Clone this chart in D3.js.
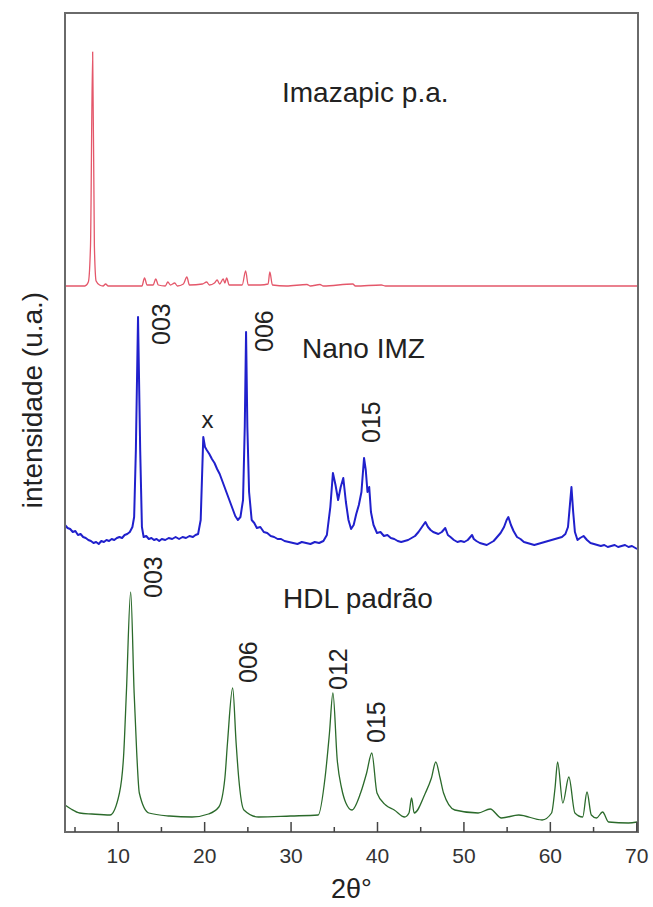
<!DOCTYPE html>
<html lang="pt">
<head>
<meta charset="utf-8">
<title>DRX</title>
<script src="https://cdn.jsdelivr.net/npm/d3@7"></script>
<style>
  body { margin: 0; background: #fff; }
  svg text { font-family: "Liberation Sans", Arial, sans-serif; fill: #222; }
</style>
</head>
<body>
<svg id="chart" width="653" height="907"></svg>
<script>
// 2theta / intensity pairs (arbitrary units)
var imazapic = [
  [3.9,0],[6.2,0],[6.6,4],[6.85,40],[7.1,234],[7.3,40],[7.5,5],[7.9,1],[8.3,0],[8.6,2],[8.9,0],
  [12.8,0],[13.1,8],[13.4,1],[14.1,1],[14.4,7],[14.7,1],[15.5,0],[15.8,4],[16.1,1],[16.6,3],[16.9,0],
  [17.6,2],[18.0,9],[18.3,1],[19.8,2],[20.3,4],[20.6,1],[21.2,3],[21.5,6],[21.8,2],[22.2,7],[22.4,3],
  [22.6,8],[22.9,1],[24.4,1],[24.8,15],[25.1,1],[26.5,1],[27.4,2],[27.6,14],[27.9,1],[29.5,0],
  [31.9,1.5],[32.3,0],[33.4,1.5],[33.8,0],[37.2,2],[37.5,0],[40.5,1],[41,0],[70.2,0]
];
var nanoImz = [
  [3.9,22],[4.2,19],[4.5,18],[4.8,15],[5.1,16],[5.4,12],[5.7,13],[6.0,10],[6.3,9],[6.6,7],[6.9,6],
  [7.2,4],[7.5,5],[7.8,3],[8.1,6],[8.4,5],[8.7,7],[9.0,6],[9.3,8],[9.6,7],[9.9,9],[10.2,10],[10.5,9],
  [10.8,12],[11.1,13],[11.4,15],[11.7,20],[11.9,30],[12.1,97],[12.35,230],[12.6,97],[12.8,20],[13.0,10],
  [13.3,11],[13.6,8],[13.9,9],[14.2,7],[14.5,8],[14.8,6],[15.1,8],[15.5,7],[15.9,9],[16.3,8],[16.7,10],
  [17.1,8],[17.5,10],[17.9,9],[18.3,11],[18.7,10],[19.0,12],[19.3,13],[19.6,27],[19.9,110],[20.1,100],
  [20.3,97],[20.6,93],[20.9,88],[21.2,84],[21.5,78],[21.8,73],[22.1,66],[22.4,59],[22.7,52],[23.0,45],
  [23.3,38],[23.6,31],[23.9,27],[24.2,30],[24.5,47],[24.7,120],[24.85,215],[25.0,120],[25.2,55],
  [25.5,27],[25.8,24],[26.1,19],[26.5,20],[26.9,15],[27.3,14],[27.7,11],[28.1,10],[28.5,8],[28.9,8],
  [29.3,6],[29.8,5],[30.3,4],[30.8,3],[31.3,5],[31.8,4],[32.3,3],[32.8,5],[33.3,4],[33.8,6],[34.2,12],
  [34.6,40],[34.9,74],[35.2,62],[35.5,47],[35.8,60],[36.1,69],[36.4,45],[36.7,27],[37.0,18],[37.3,22],
  [37.6,33],[37.9,42],[38.2,55],[38.5,89],[38.7,77],[38.9,55],[39.1,60],[39.3,35],[39.6,22],[40.0,14],
  [40.4,15],[40.8,11],[41.2,12],[41.6,9],[42.0,8],[42.4,6],[42.8,5],[43.2,6],[43.6,7],[44.0,9],[44.4,11],
  [44.8,15],[45.2,20],[45.6,25],[45.9,20],[46.2,17],[46.5,15],[46.8,14],[47.1,13],[47.5,15],[47.9,19],
  [48.2,12],[48.5,10],[48.9,7],[49.3,5],[49.7,6],[50.1,5],[50.5,7],[50.8,10],[51.0,12],[51.2,8],[51.5,6],
  [51.9,4],[52.3,3],[52.7,2],[53.1,4],[53.5,6],[53.9,10],[54.3,14],[54.7,20],[55.0,27],[55.2,30],
  [55.5,22],[55.8,16],[56.2,10],[56.6,8],[57.0,5],[57.4,4],[57.8,3],[58.2,2],[58.6,3],[59.0,4],[59.4,5],
  [59.8,6],[60.2,7],[60.6,8],[61.0,9],[61.4,10],[61.8,13],[62.1,20],[62.3,40],[62.5,60],[62.7,35],
  [62.9,15],[63.2,7],[63.5,9],[63.9,11],[64.3,7],[64.7,4],[65.1,3],[65.5,2],[65.9,1],[66.3,2],[66.7,0],
  [67.1,1],[67.5,2],[67.9,0],[68.3,1],[68.7,2],[69.1,0],[69.5,1],[69.9,-1],[70.1,-2]
];
var hdl = [
  [3.9,18],[4.6,14],[5.6,10],[7.0,9],[9.1,8],[10.2,30],[10.7,70],[11.0,130],[11.5,231],[11.9,130],
  [12.2,70],[12.5,30],[13.6,10],[16.0,7],[18.6,6],[20.5,9],[21.7,16],[22.4,45],[22.7,80],[23.3,135],
  [23.7,80],[24.0,45],[24.6,13],[26.3,6],[30.0,7],[33.2,8],[34.0,46],[34.5,90],[34.9,130],[35.4,63],
  [35.9,35],[36.4,20],[37.1,13],[38.1,30],[38.8,50],[39.4,70],[40.0,30],[41.0,18],[42.0,13],[43.2,6],
  [43.7,10],[44.0,25],[44.3,10],[45.6,30],[46.3,45],[46.8,61],[47.3,45],[47.7,30],[49.0,13],[51.7,10],
  [53.1,14],[54.4,5],[56.4,8],[59.1,3],[60.2,10],[60.6,35],[60.9,61],[61.5,20],[62.2,46],[62.9,10],
  [63.8,6],[64.3,31],[64.8,8],[65.4,5],[66.1,11],[66.8,1],[69.1,0],[70.1,1]
];
var offsets = [546, 285, 9];
var colors = ['#e4576a', '#2020cc', '#2b6a2b'];
var names = ['Imazapic p.a.', 'Nano IMZ', 'HDL padrão'];
var majorTicks = [10, 20, 30, 40, 50, 60, 70];
var minorTicks = [5, 15, 25, 35, 45, 55, 65];

// peak labels: 2theta and intensity where the rotated text starts
var peakLabels = [
  {text: '003', x: 16.05, y: 487},
  {text: '006', x: 27.95, y: 480},
  {text: '015', x: 40.35, y: 389},
  {text: '003', x: 15.1, y: 234},
  {text: '006', x: 26.1, y: 149},
  {text: '012', x: 36.5, y: 142},
  {text: '015', x: 40.9, y: 89}
];

(function () {
  var svg = d3.select('#chart');
  var mLeft = 65, mRight = 638, mTop = 13, mBottom = 832;

  var x = d3.scaleLinear().domain([3.9, 70.2]).range([mLeft, mRight]);
  var y = d3.scaleLinear().domain([0, mBottom - mTop]).range([mBottom, mTop]);

  var line = function (off, curve) {
    return d3.line()
      .x(function (d) { return x(d[0]); })
      .y(function (d) { return y(d[1] + off); })
      .curve(curve);
  };

  [imazapic, nanoImz, hdl].forEach(function (s, i) {
    svg.append('path')
      .datum(s)
      .attr('fill', 'none')
      .attr('stroke', colors[i])
      .attr('stroke-width', i == 1 ? 2 : 1.3)
      .attr('stroke-linejoin', 'round')
      .attr('d', line(offsets[i], i == 1 ? d3.curveLinear : d3.curveMonotoneX));
  });

  // frame
  svg.append('rect')
    .attr('x', mLeft).attr('y', mTop)
    .attr('width', mRight - mLeft).attr('height', mBottom - mTop)
    .attr('fill', 'none').attr('stroke', '#6a6a6a').attr('stroke-width', 2);

  var ax = svg.append('g')
    .attr('transform', 'translate(0,' + mBottom + ')')
    .call(d3.axisBottom(x).tickValues(majorTicks).tickSizeInner(-10).tickSizeOuter(0).tickPadding(16));
  ax.select('.domain').remove();
  ax.selectAll('line').attr('stroke', '#444').attr('stroke-width', 1.5);
  ax.selectAll('text').attr('font-size', 21).style('fill', '#333');

  var mx = svg.append('g')
    .attr('transform', 'translate(0,' + mBottom + ')')
    .call(d3.axisBottom(x).tickValues(minorTicks).tickSizeInner(-5).tickSizeOuter(0).tickFormat(''));
  mx.select('.domain').remove();
  mx.selectAll('line').attr('stroke', '#444').attr('stroke-width', 1.5);

  // axis titles
  svg.append('text')
    .attr('x', (mLeft + mRight) / 2).attr('y', 898)
    .attr('text-anchor', 'middle').attr('font-size', 27)
    .text('2θ°');

  svg.append('text')
    .attr('transform', 'translate(42,400) rotate(-90)')
    .attr('text-anchor', 'middle').attr('font-size', 28)
    .text('intensidade (u.a.)');

  // sample names
  var namePos = [[282, 102], [302, 358], [283, 608]];
  names.forEach(function (n, i) {
    svg.append('text')
      .attr('x', namePos[i][0]).attr('y', namePos[i][1])
      .attr('font-size', 28)
      .text(n);
  });

  // reflection labels
  peakLabels.forEach(function (p) {
    svg.append('text')
      .attr('transform', 'translate(' + x(p.x) + ',' + y(p.y) + ') rotate(-90)')
      .attr('font-size', 25)
      .text(p.text);
  });

  svg.append('text')
    .attr('x', x(20.4)).attr('y', y(404))
    .attr('text-anchor', 'middle').attr('font-size', 24)
    .text('x');
})();
</script>
</body>
</html>
